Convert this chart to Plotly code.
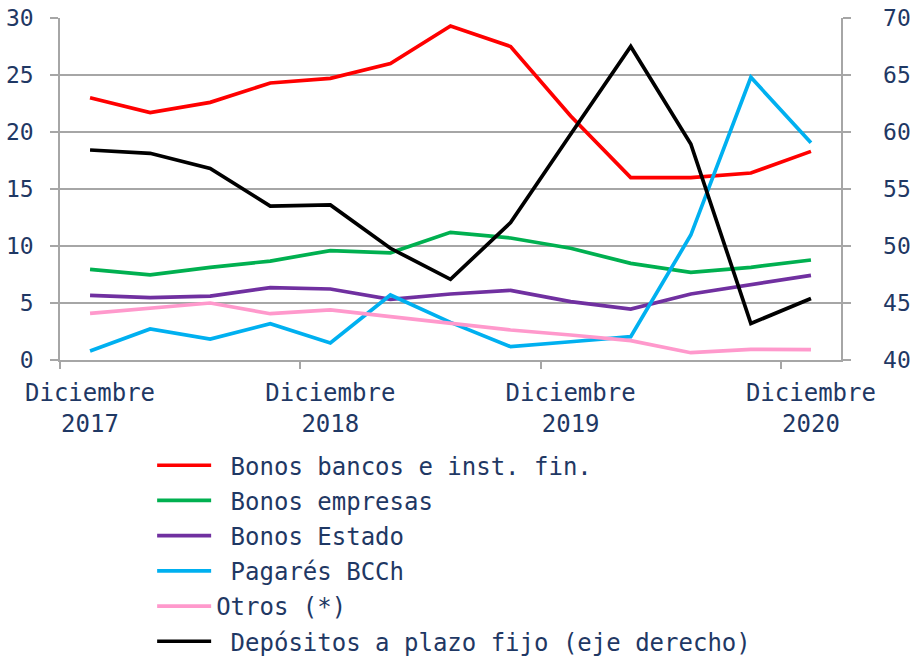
import plotly.graph_objects as go

# Quarterly observations (13 quarters, starting Q1 2018 category after Dic-2017 tick)
periods = ["Mar-18", "Jun-18", "Sep-18", "Dic-18", "Mar-19", "Jun-19", "Sep-19",
           "Dic-19", "Mar-20", "Jun-20", "Sep-20", "Dic-20", "Mar-21"]
x_pos = [i + 0.5 for i in range(len(periods))]

bonos_bancos = [23.0, 21.7, 22.6, 24.3, 24.7, 26.0, 29.3, 27.5, 21.4, 16.0, 16.0, 16.4, 18.3]
bonos_empresas = [7.95, 7.46, 8.13, 8.68, 9.6, 9.4, 11.2, 10.7, 9.8, 8.48, 7.69, 8.13, 8.77]
bonos_estado = [5.67, 5.47, 5.61, 6.35, 6.23, 5.32, 5.79, 6.11, 5.12, 4.47, 5.79, 6.64, 7.43]
pagares_bcch = [0.79, 2.72, 1.84, 3.19, 1.49, 5.7, 3.3, 1.17, 1.6, 2.05, 10.96, 24.8, 19.06]
otros = [4.09, 4.53, 5.0, 4.06, 4.39, 3.8, 3.22, 2.63, 2.19, 1.7, 0.64, 0.94, 0.91]
depositos = [58.42, 58.13, 56.81, 53.5, 53.6, 49.8, 47.08, 52.05, 59.8, 67.5, 58.95, 43.2, 45.4]

tick_vals = [0, 4, 8, 12]
tick_text = ["Diciembre<br>2017", "Diciembre<br>2018", "Diciembre<br>2019", "Diciembre<br>2020"]

NB = "\u00a0"
series = [
    (NB + "Bonos bancos e inst. fin.", bonos_bancos, "#FF0000", "y"),
    (NB + "Bonos empresas", bonos_empresas, "#00B050", "y"),
    (NB + "Bonos Estado", bonos_estado, "#7030A0", "y"),
    (NB + "Pagarés BCCh", pagares_bcch, "#00B0F0", "y"),
    ("Otros (*)", otros, "#FF99CC", "y"),
    (NB + "Depósitos a plazo fijo (eje derecho)", depositos, "#000000", "y2"),
]

FONT = "DejaVu Sans Mono"
TXT = "#1F3864"
GRID = "#A6A6A6"
FS = 24
FSY = 23

fig = go.Figure()
for i, (name, vals, color, yax) in enumerate(series):
    fig.add_trace(go.Scatter(x=x_pos, y=vals, name=name, mode="lines",
                             line=dict(color=color, width=3.7), yaxis=yax,
                             legendgroup="g%d" % i))

fig.update_layout(
    width=911, height=658,
    margin=dict(l=60, r=70, t=18, b=298, autoexpand=False),
    paper_bgcolor="white", plot_bgcolor="white",
    font=dict(family=FONT, size=FS, color=TXT),
    showlegend=True,
    legend=dict(xref="container", yref="container", x=0.167, y=0.3265,
                xanchor="left", yanchor="top",
                itemwidth=54, tracegroupgap=1, font=dict(family=FONT, size=FS, color=TXT),
                bgcolor="rgba(0,0,0,0)"),
    xaxis=dict(range=[0, 13], tickvals=tick_vals, ticktext=tick_text,
               ticks="outside", ticklen=7, tickcolor=GRID, tickwidth=1.5,
               ticklabelshift=30, ticklabelstandoff=3,
               showgrid=False, zeroline=False, automargin=False,
               showline=True, linecolor=GRID, linewidth=1.5,
               tickfont=dict(family=FONT, size=FS, color=TXT)),
    yaxis=dict(range=[0, 30], dtick=5, ticks="outside", ticklen=8, tickcolor=GRID,
               tickwidth=1.5, showgrid=True, gridcolor=GRID, gridwidth=1.5,
               zeroline=False, showline=True, linecolor=GRID, linewidth=1.5,
               ticklabelstandoff=12, automargin=False,
               tickfont=dict(family=FONT, size=FSY, color=TXT)),
    yaxis2=dict(range=[40, 70], dtick=5, overlaying="y", side="right",
                ticks="outside", ticklen=8, tickcolor=GRID, tickwidth=1.5,
                tickprefix=NB + NB,
                showgrid=False, zeroline=False, showline=True, linecolor=GRID,
                linewidth=1.5, automargin=False,
                tickfont=dict(family=FONT, size=FSY, color=TXT)),
)

fig.write_html("out.html", config={"displayModeBar": False},
               post_script="document.body.style.margin='0';")
